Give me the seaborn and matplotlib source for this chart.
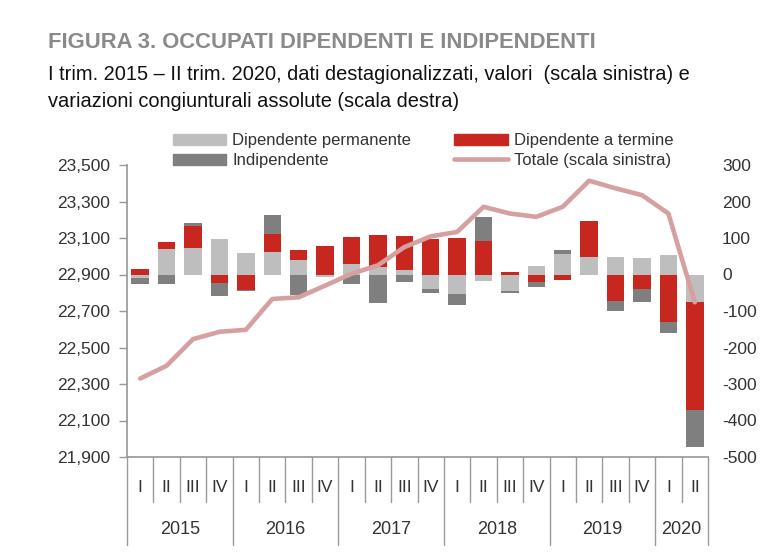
import matplotlib
matplotlib.use("Agg")
import matplotlib.pyplot as plt
from matplotlib import font_manager as fm
import matplotlib.transforms as mtransforms
from matplotlib.patches import Patch
from matplotlib.lines import Line2D
from matplotlib.ticker import FuncFormatter
import numpy as np
import pandas as pd
import seaborn as sns

# ---------------- data ----------------
quarters = ['I', 'II', 'III', 'IV'] * 5 + ['I', 'II']
years = ['2015', '2016', '2017', '2018', '2019', '2020']
year_len = [4, 4, 4, 4, 4, 2]
permanente = [-9, 71, 73, 98, 59, 61, 41, -6, 29, 20, 11, -39, -53, -17, -46, 23, 55, 48, 48, 45, 54, -76]
termine = [16, 17, 59, -22, -42, 50, 25, 77, 73, 87, 95, 98, 100, 92, 8, -21, -14, 98, -73, -39, -131, -296]
indipendente = [-16, -26, 10, -36, -2, 53, -55, -2, -26, -78, -21, -11, -30, 66, -4, -14, 11, 0, -28, -37, -28, -101]
totale = [22330, 22400, 22546, 22586, 22597, 22766, 22775, 22839, 22904, 22950, 23050, 23109,
          23133, 23271, 23234, 23216, 23271, 23414, 23372, 23335, 23234, 22748]
left_ticks = [21900, 22100, 22300, 22500, 22700, 22900, 23100, 23300, 23500]
right_ticks = [-500, -400, -300, -200, -100, 0, 100, 200, 300]

# ---------------- fonts ----------------
def have(name):
    try:
        fm.findfont(fm.FontProperties(family=name), fallback_to_default=False)
        return True
    except Exception:
        return False

narrow = 'Liberation Sans Narrow' if have('Liberation Sans Narrow') else 'Liberation Sans'
sns.set_theme(style="white")
plt.rcParams['font.family'] = [narrow, 'DejaVu Sans']

C_PERM = '#BEBEBE'
C_TERM = '#C8271F'
C_IND = '#7F7F7F'
C_LINE = '#D5A09F'
C_AX = '#9A9A9A'
C_TXT = '#333333'

fig = plt.figure(figsize=(7.67, 5.60), dpi=100)
ax = fig.add_axes([127/767, 1-457/560, (708-127)/767, (457-165)/560])
ax2 = ax.twinx()

n = len(quarters)
idx = np.arange(n)
df = pd.DataFrame({'idx': idx, 'perm': permanente, 'term': termine, 'ind': indipendente, 'tot': totale})

pos_base = np.zeros(n)
neg_base = np.zeros(n)
for col, c in [('perm', C_PERM), ('term', C_TERM), ('ind', C_IND)]:
    v = df[col].to_numpy(dtype=float)
    bottom = np.where(v >= 0, pos_base, neg_base)
    sns.barplot(x=idx, y=v, bottom=bottom, color=c, saturation=1, width=0.66,
                errorbar=None, linewidth=0, ax=ax)
    pos_base = pos_base + np.where(v > 0, v, 0)
    neg_base = neg_base + np.where(v < 0, v, 0)

sns.lineplot(data=df, x='idx', y='tot', ax=ax2, color=C_LINE, linewidth=3.3,
             solid_capstyle='round')

ax.set_xlim(-0.5, n - 0.5)
ax2.set_xlim(-0.5, n - 0.5)
ax.set_ylim(-500, 300)
ax2.set_ylim(21900, 23500)

# right scale (bars)
ax.yaxis.tick_right()
ax.set_yticks(right_ticks)
ax.set_yticklabels([str(t) for t in right_ticks])
ax.tick_params(axis='y', length=0, pad=10, labelsize=12.5, labelcolor=C_TXT)
# left scale (line)
ax2.yaxis.tick_left()
ax2.set_yticks(left_ticks)
ax2.yaxis.set_major_formatter(FuncFormatter(lambda v, p: f"{int(v):,}"))
ax2.tick_params(axis='y', length=6, width=1, color=C_AX, pad=6, labelsize=12.5, labelcolor=C_TXT)

for a in (ax, ax2):
    a.set_xlabel('')
    a.set_ylabel('')
    a.set_xticks([])
    a.grid(False)
    for s in ['top', 'right', 'left', 'bottom']:
        a.spines[s].set_visible(False)
ax2.spines['left'].set_visible(True)
ax2.spines['left'].set_color(C_AX)
ax2.spines['bottom'].set_visible(True)
ax2.spines['bottom'].set_color(C_AX)

# custom category axis
blend = mtransforms.blended_transform_factory(ax.transData, ax.transAxes)
axh = 457 - 165
for i, q in enumerate(quarters):
    ax.text(i, -31/axh, q, transform=blend, ha='center', va='center', fontsize=12.5, color=C_TXT)
year_edges = [-0.5]
for L in year_len:
    year_edges.append(year_edges[-1] + L)
for k in range(n + 1):
    xk = k - 0.5
    long = xk in year_edges
    ax.plot([xk, xk], [0, -(88 if long else 45)/axh], transform=blend, clip_on=False,
            color=C_AX, lw=1)
for j, y in enumerate(years):
    cx = (year_edges[j] + year_edges[j + 1]) / 2
    ax.text(cx, -72/axh, y, transform=blend, ha='center', va='center', fontsize=13, color=C_TXT)

# legend
handles = [Patch(color=C_PERM), Patch(color=C_IND), Patch(color=C_TERM),
           Line2D([0], [0], color=C_LINE, lw=3.3)]
labels = ['Dipendente permanente', 'Indipendente', 'Dipendente a termine', 'Totale (scala sinistra)']
fig.legend(handles, labels, ncol=2, loc='upper left', bbox_to_anchor=(173/767, 1-133/560),
           frameon=False, fontsize=12, handlelength=3.2, handleheight=0.65,
           handletextpad=0.35, columnspacing=2.6, labelspacing=0.3, borderpad=0,
           borderaxespad=0, labelcolor=C_TXT)

# titles
fig.text(48/767, 1-48/560, 'FIGURA 3. OCCUPATI DIPENDENTI E INDIPENDENTI', fontsize=15.8,
         fontweight='bold', color='#8A8A8A', ha='left', va='baseline')
fig.text(48/767, 1-80/560, 'I trim. 2015 \u2013 II trim. 2020, dati destagionalizzati, valori  (scala sinistra) e',
         fontsize=14.4, color='#111111', ha='left', va='baseline')
fig.text(48/767, 1-107/560, 'variazioni congiunturali assolute (scala destra)',
         fontsize=14.4, color='#111111', ha='left', va='baseline')

fig.savefig('out.png', dpi=100)
